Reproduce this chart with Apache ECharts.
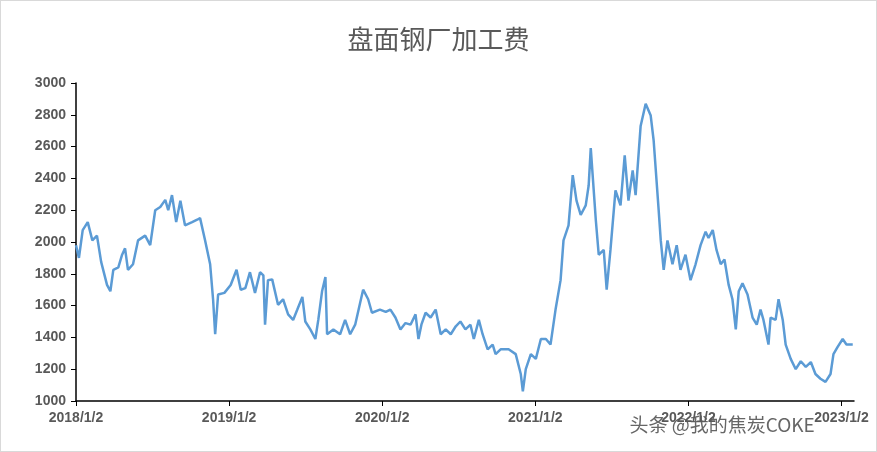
<!DOCTYPE html>
<html><head><meta charset="utf-8">
<script src="https://cdn.jsdelivr.net/npm/echarts@6/dist/echarts.min.js"></script>
<style>html,body{margin:0;padding:0;background:#fff}#c{width:877px;height:452px;box-sizing:border-box;border:1px solid #d9d9d9}</style>
</head><body><div id="c"></div>
<script>
const dates = [
"2018-01-02","2018-01-09","2018-01-18","2018-01-30","2018-02-10","2018-02-21","2018-03-03","2018-03-17","2018-03-25","2018-04-01","2018-04-13","2018-04-22","2018-04-29","2018-05-06","2018-05-18","2018-05-30","2018-06-16","2018-06-28","2018-07-10","2018-07-22","2018-08-03","2018-08-10","2018-08-19","2018-08-29","2018-09-08","2018-09-19","2018-10-06","2018-10-18","2018-10-25","2018-11-06","2018-11-18","2018-11-25","2018-11-30","2018-12-07","2018-12-22",
"2019-01-06","2019-01-20","2019-01-30","2019-02-10","2019-02-21","2019-03-05","2019-03-17","2019-03-25","2019-03-29","2019-04-05","2019-04-15","2019-04-29","2019-05-11","2019-05-23","2019-06-04","2019-06-14","2019-06-26","2019-07-03","2019-07-15","2019-07-27","2019-08-03","2019-08-12","2019-08-20","2019-08-24","2019-09-08","2019-09-24","2019-10-06","2019-10-18","2019-10-30","2019-11-11","2019-11-18","2019-11-30","2019-12-09","2019-12-28",
"2020-01-11","2020-01-22","2020-02-03","2020-02-15","2020-02-27","2020-03-10","2020-03-22","2020-03-29","2020-04-05","2020-04-15","2020-04-27","2020-05-09","2020-05-21","2020-06-02","2020-06-14","2020-06-26","2020-07-07","2020-07-19","2020-07-31","2020-08-08","2020-08-20","2020-08-29","2020-09-10","2020-09-22","2020-09-29","2020-10-11","2020-10-30","2020-11-16","2020-11-28","2020-12-03","2020-12-10","2020-12-22",
"2021-01-03","2021-01-15","2021-01-27","2021-02-07","2021-02-19","2021-03-03","2021-03-10","2021-03-22","2021-04-01","2021-04-10","2021-04-20","2021-05-02","2021-05-09","2021-05-14","2021-05-26","2021-06-02","2021-06-14","2021-06-21","2021-06-30","2021-07-12","2021-07-24","2021-08-03","2021-08-12","2021-08-22","2021-08-29","2021-09-10","2021-09-22","2021-10-04","2021-10-11","2021-10-23","2021-10-28","2021-11-04","2021-11-13","2021-11-25","2021-12-05","2021-12-14","2021-12-26",
"2022-01-07","2022-01-19","2022-01-31","2022-02-12","2022-02-19","2022-03-01","2022-03-10","2022-03-20","2022-03-29","2022-04-08","2022-04-17","2022-04-25","2022-05-02","2022-05-11","2022-05-23","2022-06-04","2022-06-14","2022-06-23","2022-06-30","2022-07-12","2022-07-17","2022-07-29","2022-08-05","2022-08-15","2022-08-22","2022-09-03","2022-09-15","2022-09-27","2022-10-09","2022-10-21","2022-11-01","2022-11-13","2022-11-25","2022-12-07","2022-12-14","2022-12-24",
"2023-01-05","2023-01-14","2023-01-29"];
const values = [
1980,1900,2075,2125,2010,2040,1875,1730,1690,1825,1840,1920,1960,1825,1860,2010,2040,1980,2200,2220,2265,2200,2295,2125,2260,2105,2125,2140,2150,2010,1860,1640,1420,1670,1680,
1730,1825,1700,1710,1810,1680,1810,1790,1480,1760,1765,1605,1640,1545,1510,1575,1655,1500,1450,1390,1510,1690,1780,1420,1450,1420,1510,1420,1480,1620,1700,1640,1555,1575,
1560,1575,1525,1450,1490,1480,1545,1390,1480,1555,1525,1575,1420,1450,1420,1470,1500,1450,1480,1390,1510,1420,1325,1355,1295,1325,1325,1295,1170,1060,1200,1295,
1265,1390,1390,1355,1575,1760,2010,2105,2420,2260,2170,2230,2355,2590,2140,1920,1950,1700,1950,2325,2230,2545,2260,2450,2295,2730,2870,2795,2640,2200,2010,1825,2010,1860,1980,1825,1920,
1760,1860,1980,2065,2025,2075,1950,1860,1890,1730,1640,1450,1690,1740,1670,1525,1480,1575,1510,1355,1525,1510,1640,1510,1355,1265,1200,1250,1215,1245,1170,1140,1120,1170,1295,1340,
1390,1355,1355];
const yTicks = {min:1000, max:3000, interval:200};
const DAY = 86400000, YEAR = 365.25*DAY;
const t0 = Date.UTC(2018,0,2);
const data = dates.map((d,i)=>[Date.parse(d+"T00:00:00Z"), values[i]]);
const chart = echarts.init(document.getElementById('c'));
chart.setOption({
  animation:false,
  title:{text:'盘面钢厂加工费',left:'center',top:20,textStyle:{fontFamily:'Noto Sans CJK SC',fontSize:26,fontWeight:'normal',color:'#595959'}},
  grid:{left:75,right:22,top:82,bottom:50},
  xAxis:{type:'value',min:t0,max:Date.parse('2023-02-01T00:00:00Z'),interval:YEAR,
    axisLine:{lineStyle:{color:'#000',width:1.5}},axisTick:{show:true,length:5,lineStyle:{color:'#000'}},
    splitLine:{show:false},
    axisLabel:{showMaxLabel:false,color:'#595959',fontSize:14,fontWeight:'bold',fontFamily:'Liberation Sans',margin:10,
      formatter:v=>new Date(v+DAY/2).getUTCFullYear()+'/1/2'}},
  yAxis:{type:'value',min:yTicks.min,max:yTicks.max,interval:yTicks.interval,
    axisLine:{show:true,lineStyle:{color:'#000',width:1.5}},axisTick:{show:true,length:5,lineStyle:{color:'#000'}},
    splitLine:{show:false},
    axisLabel:{color:'#595959',fontSize:14,fontWeight:'bold',fontFamily:'Liberation Sans',margin:10,formatter:v=>String(v)}},
  series:[{type:'line',data:data,showSymbol:false,lineStyle:{color:'#5b9bd5',width:2.5},itemStyle:{color:'#5b9bd5'}}],
  graphic:[{type:'text',left:627,top:413,style:{text:'头条 @我的焦炭COKE',fontSize:19,fontFamily:'Noto Sans CJK SC',fill:'#666',stroke:'#fff',lineWidth:3}}]
});
</script></body></html>
